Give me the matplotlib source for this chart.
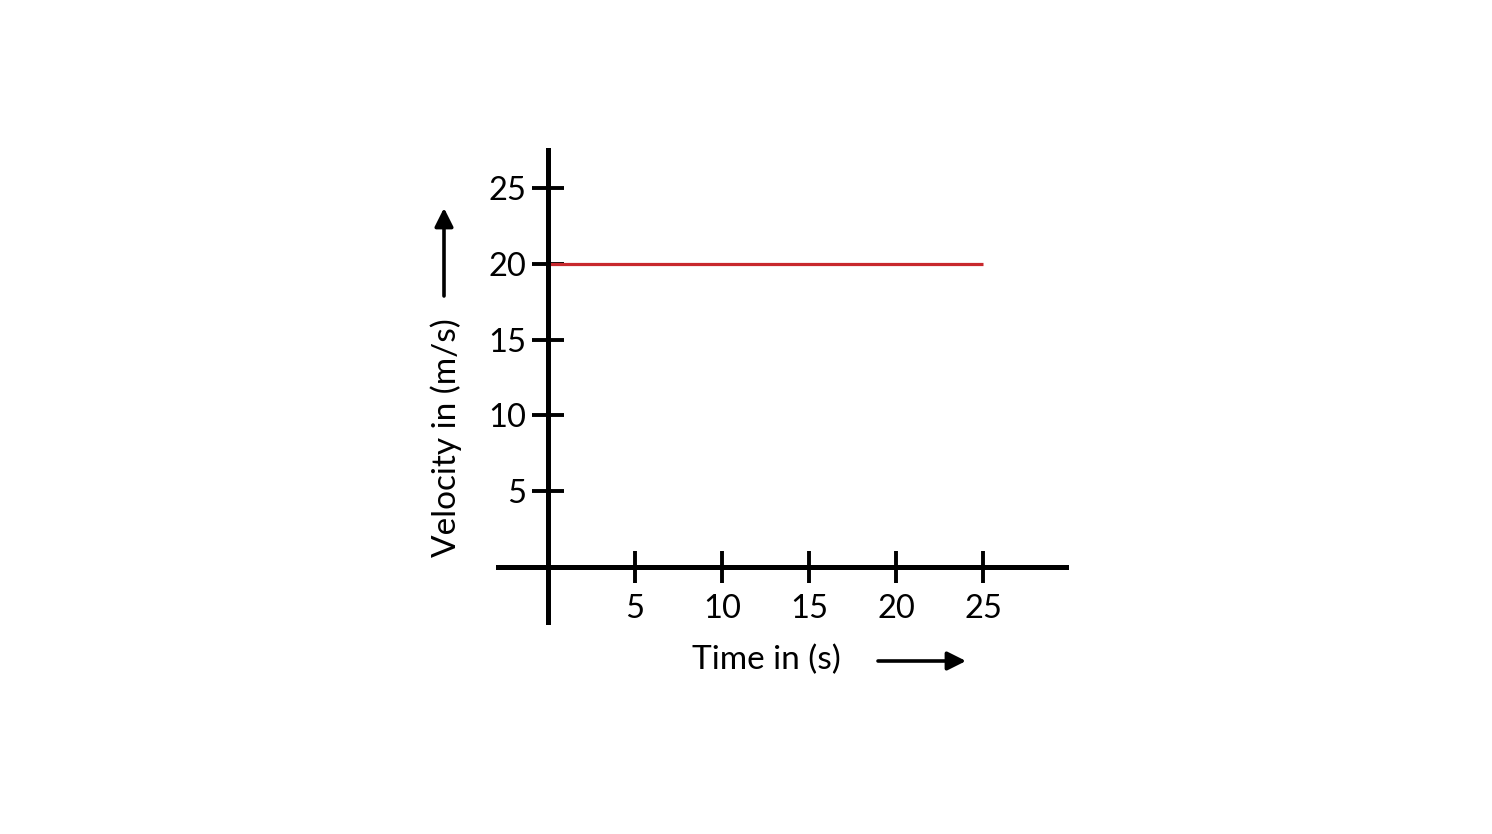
import matplotlib
matplotlib.use("Agg")
import matplotlib.pyplot as plt

# Data
time_s = [0, 25]
velocity_ms = [20, 20]
x_ticks = [5, 10, 15, 20, 25]
y_ticks = [5, 10, 15, 20, 25]
x_label = "Time in (s)"
y_label = "Velocity in (m/s)"

plt.rcParams['font.family'] = ['Lato', 'DejaVu Sans']

W, H = 1492, 834
fig = plt.figure(figsize=(W / 100, H / 100), dpi=100)
fig.patch.set_facecolor('white')

left_px, right_px = 495.8, 1070.0
top_px, bottom_px = 142.5, 627.6
ax = fig.add_axes([left_px / W, 1 - bottom_px / H,
                   (right_px - left_px) / W, (bottom_px - top_px) / H])
ax.set_xlim(-3, 30)
ax.set_ylim(-4, 28)

ax.plot(time_s, velocity_ms, color='#c8282d', lw=2.3, solid_capstyle='butt', zorder=2)

for s in ['top', 'right']:
    ax.spines[s].set_visible(False)
ax.spines['left'].set_position(('data', 0))
ax.spines['bottom'].set_position(('data', 0))
ax.spines['left'].set_bounds(-3.63, 27.5)
ax.spines['bottom'].set_bounds(-2.87, 29.77)
for s in ['left', 'bottom']:
    ax.spines[s].set_linewidth(3.6)
    ax.spines[s].set_color('black')
    ax.spines[s].set_zorder(3)

ax.set_xticks(x_ticks)
ax.set_yticks(y_ticks)
ax.set_xticklabels([str(v) for v in x_ticks])
ax.set_yticklabels([str(v) for v in y_ticks])
ax.tick_params(axis='both', direction='inout', length=23.5, width=2.8,
               color='black', labelsize=23.5, labelcolor='black')
ax.tick_params(axis='x', pad=8)
ax.tick_params(axis='y', pad=4)
ax.patch.set_alpha(0)

fig.text(446 / W, 1 - 438 / H, y_label, rotation=90, ha='center', va='center',
         fontsize=24, color='black')
fig.text(766 / W, 1 - 660 / H, x_label, ha='center', va='center',
         fontsize=24, color='black')

arrow_props = dict(arrowstyle='-|>', lw=2.6, color='black', mutation_scale=28,
                   shrinkA=0, shrinkB=0)
ax.annotate('', xy=(444 / W, 1 - 208 / H), xytext=(444 / W, 1 - 296 / H),
            xycoords='figure fraction', textcoords='figure fraction',
            arrowprops=arrow_props)
ax.annotate('', xy=(966 / W, 1 - 661 / H), xytext=(878 / W, 1 - 661 / H),
            xycoords='figure fraction', textcoords='figure fraction',
            arrowprops=arrow_props)

fig.savefig('out.png', dpi=100, facecolor='white')
